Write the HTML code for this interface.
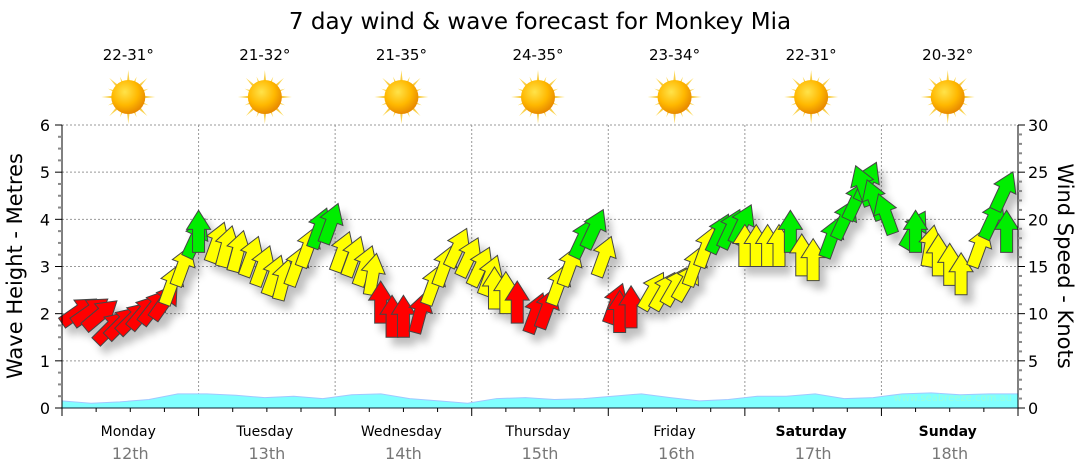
<!DOCTYPE html>
<html><head><meta charset="utf-8"><style>
body{margin:0;background:#fff;}
svg{display:block;font-family:"DejaVu Sans","Liberation Sans",sans-serif;}
</style></head><body>
<svg id="chart" width="1080" height="475" viewBox="0 0 1080 475">
<defs>
<radialGradient id="sunCore" cx="40%" cy="35%" r="65%"><stop offset="0" stop-color="#ffe34a"/><stop offset="0.6" stop-color="#ffb800"/><stop offset="1" stop-color="#e88a00"/></radialGradient>
<linearGradient id="ray" x1="0" y1="0" x2="0" y2="1"><stop offset="0" stop-color="#ffe066"/><stop offset="1" stop-color="#e8a200"/></linearGradient>
<filter id="shadow" x="-50%" y="-50%" width="200%" height="200%"><feGaussianBlur in="SourceAlpha" stdDeviation="4"/><feOffset dx="6" dy="8"/><feComponentTransfer><feFuncA type="linear" slope="0.25"/></feComponentTransfer><feMerge><feMergeNode/><feMergeNode in="SourceGraphic"/></feMerge></filter>
</defs>
<text x="540" y="29" text-anchor="middle" font-size="23" fill="#000">7 day wind &amp; wave forecast for Monkey Mia</text>
<g id="grid"></g>
<g id="waves"></g>
<g id="arrows" filter="url(#shadow)"></g>
<g id="axes"></g>
<g id="topg"></g>
<text x="1012" y="401" text-anchor="end" font-size="10" fill="#9fd">www.seabreeze.com.au</text>
<text transform="translate(22,266) rotate(-90)" text-anchor="middle" font-size="21" fill="#000">Wave Height - Metres</text>
<text transform="translate(1058,266) rotate(90)" text-anchor="middle" font-size="21" fill="#000">Wind Speed - Knots</text>
</svg>
<script>
const days=["Monday","Tuesday","Wednesday","Thursday","Friday","Saturday","Sunday"];
const dates=["12th","13th","14th","15th","16th","17th","18th"];
const temps=["22-31°","21-32°","21-35°","24-35°","23-34°","22-31°","20-32°"];
const waveTicks=[0,1,2,3,4,5,6];
const windTicks=[0,5,10,15,20,25,30];
// wind speed (knots, arrow tail) every 2 hours
const windSpeed=[9,9,8.5,7,7.5,8,8.5,9,9.5,11,13,16,
 16.5,15.5,15,14.5,14,13,12,11.5,13,15,17,17.5,
 14.5,14,13,12,9,7.5,7.5,8,11,13,15,14,
 13,12,10.5,10,9,8,8.5,11,13,16,17,14,
 9,8,8.5,10.5,10.5,11,11.5,13,15,16.5,17,17.5,
 15,15,15,15,16.5,14,13.5,16,18,20,22,21.5,
 20,18.5,17,16.5,15,14,13,12,15,18,21,16.5];
// arrow rotation in degrees (clockwise from up)
const windDir=[55,55,50,45,45,45,40,38,35,20,20,25,
 0,20,15,15,20,20,20,15,20,20,20,20,
 20,20,20,10,0,0,0,15,20,20,25,25,
 25,20,0,0,0,20,20,20,20,25,25,20,
 20,0,0,30,30,30,30,20,20,25,25,25,
 0,0,0,0,0,0,0,20,25,25,25,-20,
 -20,-20,30,0,10,0,0,0,20,25,25,0];
// wave height (metres) every 6 hours
const waveHeight=[0.15,0.1,0.13,0.18,0.3,0.3,0.27,0.22,0.25,0.2,0.28,0.3,0.2,0.15,0.1,0.2,0.22,0.18,0.2,0.25,0.3,0.22,0.15,0.18,0.25,0.25,0.3,0.2,0.22,0.3,0.32,0.28,0.3,0.3];
const X0=62,X1=1018,Y0=408,Y1=125;
const dayW=(X1-X0)/7;
const xT=h=>X0+h*dayW/24;
const yM=m=>Y0-(Y0-Y1)*m/6;
const yK=k=>Y0-(Y0-Y1)*k/30;
const NS="http://www.w3.org/2000/svg";
function mk(tag,attrs,parent){const e=document.createElementNS(NS,tag);for(const k in attrs)e.setAttribute(k,attrs[k]);parent.appendChild(e);return e;}
const grid=document.getElementById('grid'),axes=document.getElementById('axes'),topG=document.getElementById('topg');
waveTicks.forEach(m=>{if(m>0){const l=mk('line',{x1:X0,x2:X1,y1:yM(m),y2:yM(m),stroke:'#999','stroke-dasharray':'2,2','stroke-width':1},grid);

}});
for(let d=1;d<7;d++){const l=mk('line',{x1:X0+d*dayW,x2:X0+d*dayW,y1:Y1,y2:Y0,stroke:'#999','stroke-dasharray':'2,2'},grid);

}
let p=`M${X0},${Y0}`;waveHeight.forEach((v,i)=>{p+=` L${X0+(X1-X0)*i/(waveHeight.length-1)},${yM(v)}`});p+=` L${X1},${Y0} Z`;
const wv=mk('path',{d:p,fill:'#80ffff',stroke:'#a0c8ff','stroke-width':1},document.getElementById('waves'));


const ag=document.getElementById('arrows');
windSpeed.forEach((k,i)=>{const x=xT(i*2),y=yK(k);const col=k<10?'#ff0000':(k<16?'#ffff00':'#00ee00');
const a=mk('path',{d:'M-6,0 L-6,-23 L-12,-23 L0,-42 L12,-23 L6,-23 L6,0 Z',fill:col,stroke:'#444','stroke-width':1,transform:`translate(${x},${y}) rotate(${windDir[i]})`},ag);

});
mk('line',{x1:X0,x2:X0,y1:Y1,y2:Y0+8,stroke:'#000'},axes);
mk('line',{x1:X1,x2:X1,y1:Y1,y2:Y0,stroke:'#000'},axes);
mk('line',{x1:X0,x2:X1,y1:Y0,y2:Y0,stroke:'#123'},axes);
for(let q=0;q<=24;q++){const y=yM(q/4);mk('line',{x1:X0-(q%4?4:7),x2:X0,y1:y,y2:y,stroke:q%4?'#888':'#000','stroke-width':q%4?2:1},axes);}
for(let q=0;q<=30;q++){const y=yK(q);mk('line',{x1:X1,x2:X1+(q%5?4:7),y1:y,y2:y,stroke:q%5?'#888':'#000','stroke-width':q%5?2:1},axes);}
waveTicks.forEach(m=>{const t=mk('text',{x:X0-12,y:yM(m)+6,'text-anchor':'end','font-size':16},axes);t.textContent=m;

});
windTicks.forEach(k=>{const t=mk('text',{x:X1+10,y:yK(k)+6,'font-size':16},axes);t.textContent=k;

});
for(let h=0;h<=168;h+=6){const x=xT(h);mk('line',{x1:x,x2:x,y1:Y0,y2:Y0+(h%24?4:8),stroke:'#000'},axes);}
days.forEach((d,i)=>{const cx=X0+dayW*(i+0.5);const wk=i>=5;
const t=mk('text',{x:cx-2,y:436,'text-anchor':'middle','font-size':14,'font-weight':wk?'bold':'normal'},axes);t.textContent=d;


const t2=mk('text',{x:cx,y:459,'text-anchor':'middle','font-size':16,fill:'#777'},axes);t2.textContent=dates[i];


const t3=mk('text',{x:cx-2,y:60,'text-anchor':'middle','font-size':15},topG);t3.textContent=temps[i];


const g=mk('g',{transform:`translate(${cx-2},97)`},topG);


for(let r=0;r<16;r++){const L=r%2?22:27;mk('path',{d:`M-3,0 L0,-${L} L3,0 Z`,fill:'url(#ray)',transform:`rotate(${r*22.5})`},g);}
mk('circle',{r:17,fill:'url(#sunCore)'},g);});
</script>
</body></html>
